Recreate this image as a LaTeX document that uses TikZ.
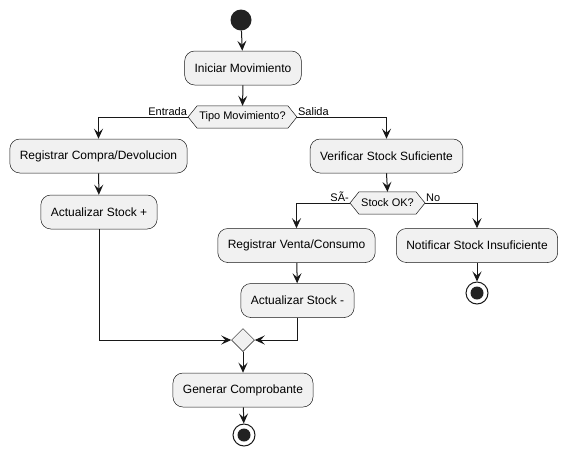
\documentclass[tikz,border=0pt]{standalone}
\usepackage{fontspec}
\setmainfont{Liberation Sans}
\usetikzlibrary{arrows.meta,shapes.geometric}
\definecolor{boxfill}{HTML}{F1F1F1}
\definecolor{linec}{HTML}{181818}
\definecolor{dotc}{HTML}{222222}
\pgfdeclarelayer{bg}
\pgfsetlayers{bg,main}
\newcommand\hexpath[1]{\draw[draw=linec, line width=0.5pt, fill=boxfill] (#1.west) -- ([xshift=9pt]#1.north west) -- ([xshift=-9pt]#1.north east) -- (#1.east) -- ([xshift=-9pt]#1.south east) -- ([xshift=9pt]#1.south west) -- cycle;}
\begin{document}
\begin{tikzpicture}[x=1pt,y=-1pt,
 act/.style={draw=linec, line width=0.5pt, fill=boxfill, rounded corners=10pt, font=\fontsize{12}{14}\selectfont, inner xsep=10pt, minimum height=34pt},
 hexnode/.style={inner xsep=11pt, inner ysep=0pt, minimum height=22pt, font=\fontsize{11}{13}\selectfont},
 lbl/.style={font=\fontsize{11}{13}\selectfont, inner sep=1pt},
 flow/.style={draw=linec, line width=1pt, -{Stealth[length=10pt,width=9pt,inset=4pt]}},
 startdot/.style={circle, fill=dotc, minimum size=21pt, inner sep=0pt},
 endouter/.style={circle, draw=linec, line width=1pt, fill=white, minimum size=22pt, inner sep=0pt},
 enddot/.style={circle, fill=dotc, minimum size=13pt, inner sep=0pt},
 mergenode/.style={diamond, draw=linec, line width=0.5pt, fill=boxfill, minimum width=23pt, minimum height=23pt, inner sep=0pt, aspect=1},
 ]
\useasboundingbox (0,0) rectangle (567,459);

\node[startdot] (start) at (241,20) {};
\node[act] (init) at (243,68) {Iniciar Movimiento};
\node[hexnode] (tipo) at (242.5,117) {Tipo Movimiento?};
\node[act] (compra) at (98.5,156) {Registrar Compra/Devolucion};
\node[act] (actmas) at (99,212) {Actualizar Stock +};
\node[act] (verif) at (386.5,156) {Verificar Stock Suficiente};
\node[hexnode] (ok) at (387.5,203) {Stock OK?};
\node[act] (venta) at (296.5,245.5) {Registrar Venta/Consumo};
\node[act] (actmenos) at (297.5,300.5) {Actualizar Stock -};
\node[act] (notif) at (477,245.5) {Notificar Stock Insuficiente};
\node[endouter] (end1) at (477,293) {};
\node[enddot] (end1dot) at (end1) {};
\node[mergenode] (merge) at (243,340) {};
\node[act] (gen) at (243,390) {Generar Comprobante};
\node[endouter] (end2) at (244,435) {};
\node[enddot] (end2dot) at (end2) {};

\begin{pgfonlayer}{bg}
\fill[white] (0,0) rectangle (567,459);
\hexpath{tipo}
\hexpath{ok}
\end{pgfonlayer}

\draw[flow] (start) -- (init);
\draw[flow] (init.south) -- (tipo.north);
\draw[flow] (tipo.west) -| (compra.north);
\draw[flow] (tipo.east) -| (verif.north);
\node[lbl, anchor=south east] (lentrada) at (tipo.west) {Entrada};
\node[lbl, anchor=south west] (lsalida) at (tipo.east) {Salida};
\draw[flow] (compra) -- (actmas);
\draw[flow] (verif.south) -- (ok.north);
\draw[flow] (ok.west) -| (venta.north);
\draw[flow] (ok.east) -| (notif.north);
\node[lbl, anchor=south east] (lsi) at (ok.west) {SÃ-};
\node[lbl, anchor=south west] (lno) at (ok.east) {No};
\draw[flow] (venta) -- (actmenos);
\draw[flow] (notif) -- (end1);
\draw[flow] (actmas.south) |- (merge.west);
\draw[flow] (actmenos.south) |- (merge.east);
\draw[flow] (merge) -- (gen);
\draw[flow] (gen) -- (end2);
\end{tikzpicture}
\end{document}
